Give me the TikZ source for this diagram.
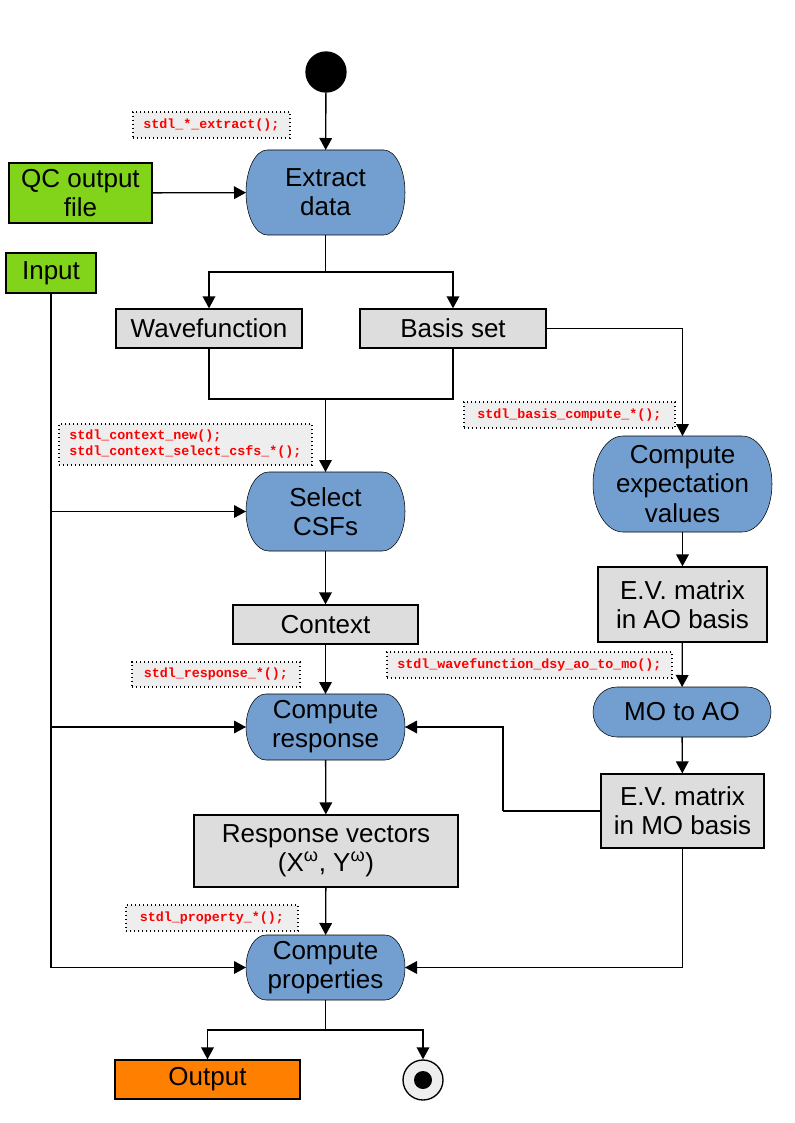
\documentclass[tikz,border=0pt]{standalone}
\usepackage{fontspec}
\setmainfont{Liberation Sans}
\setmonofont{Liberation Mono}
\usetikzlibrary{arrows.meta,backgrounds}
\definecolor{actblue}{HTML}{729FCF}
\definecolor{datagray}{HTML}{DDDDDD}
\definecolor{srcgreen}{HTML}{81D41A}
\definecolor{outorange}{HTML}{FF8000}
\definecolor{codegray}{HTML}{EEEEEE}
\tikzset{
  activity/.style={inner sep=0pt,outer sep=0pt,align=center,
    minimum width=119.25pt,font=\fontsize{19.5}{21.8}\selectfont},
  databox/.style={draw,fill=datagray,inner sep=0pt,align=center,font=\fontsize{19.5}{21.8}\selectfont},
  srcbox/.style={databox,fill=srcgreen},
  codenote/.style={draw,dotted,fill=codegray,inner sep=0pt,text=red,
    font=\ttfamily\bfseries\fontsize{10}{12}\selectfont},
  arr/.style={-{Triangle[length=9pt,width=9.5pt]}},
}
\begin{document}
\begin{tikzpicture}[x=0.75pt,y=-0.75pt,line width=1pt]
  \useasboundingbox (0,0) rectangle (794,1123);

  \node (start) [circle,fill=black,draw,minimum size=30pt,inner sep=0pt] at (326,72) {};
  \node (extract) [activity,minimum height=63.75pt] at (325.5,192.5) {Extract\\data};
  \node (qcfile) [srcbox,minimum width=107.25pt,minimum height=45pt] at (80.5,193) {QC output\\file};
  \node (input) [srcbox,minimum width=67.5pt,minimum height=30pt] at (51,273) {Input};
  \node (wave) [databox,minimum width=139.5pt,minimum height=29.25pt] at (209,328.5) {Wavefunction};
  \node (basis) [databox,minimum width=139.5pt,minimum height=29.25pt] at (453,328.5) {Basis set};
  \node (select) [activity,minimum height=59.25pt] at (325.5,511.5) {Select\\CSFs};
  \node (context) [databox,minimum width=138.75pt,minimum height=29.25pt] at (325.5,624.5) {Context};
  \node (response) [activity,minimum height=49.5pt] at (325.5,727) {Compute\\response};
  \node (vectors) [databox,minimum width=198pt,minimum height=54pt] at (326,851) {Response vectors\\(X\textsuperscript{ω}, Y\textsuperscript{ω})};
  \node (props) [activity,minimum height=48.75pt] at (325.5,967.5) {Compute\\properties};
  \node (output) [databox,fill=outorange,minimum width=138.75pt,minimum height=29.25pt] at (207.5,1079.5) {Output};
  \node (stop) [circle,draw,fill=codegray,minimum size=30pt,inner sep=0pt,
    path picture={\fill[black] (path picture bounding box.center) circle [radius=6.75pt];}] at (423,1080) {};
  \node (expect) [activity,minimum width=134.25pt,minimum height=72pt] at (682.5,484) {Compute\\expectation\\values};
  \node (evao) [databox,minimum width=126.75pt,minimum height=56.25pt] at (682.5,604.5) {E.V. matrix\\in AO basis};
  \node (motoao) [activity,minimum width=133.5pt,minimum height=37.5pt] at (682,712) {MO to AO};
  \node (evmo) [databox,minimum width=122.25pt,minimum height=55.5pt] at (682.5,811) {E.V. matrix\\in MO basis};

  \begin{scope}[on background layer]
    \foreach \a/\rx/\ry in {extract/16/31.875,select/17/29.625,response/15/24.75,
        props/15/24.375,expect/22.5/36,motoao/18/18.75}
      \draw[fill=actblue] ([xshift=\rx pt]\a.north west) -- ([xshift=-\rx pt]\a.north east)
        arc [start angle=90,end angle=-90,x radius=\rx pt,y radius=\ry pt]
        -- ([xshift=\rx pt]\a.south west)
        arc [start angle=270,end angle=90,x radius=\rx pt,y radius=\ry pt] -- cycle;
  \end{scope}

  \node (noteextract) [codenote,minimum width=117.75pt,minimum height=19.5pt] at (211.5,125) {stdl\_*\_extract();};
  \node (notebasis) [codenote,minimum width=158.25pt,minimum height=19.5pt] at (569.5,415) {stdl\_basis\_compute\_*();};
  \node (notecontext) [codenote,align=left,minimum width=189.75pt,minimum height=30.75pt] at (185.5,444.5)
    {stdl\_context\_new();\\stdl\_context\_select\_csfs\_*();};
  \node (noteresponse) [codenote,minimum width=126pt,minimum height=18.75pt] at (216,674.5) {stdl\_response\_*();};
  \node (notemo) [codenote,minimum width=213.75pt,minimum height=19.5pt] at (529.5,665) {stdl\_wavefunction\_dsy\_ao\_to\_mo();};
  \node (noteprops) [codenote,minimum width=129pt,minimum height=19.5pt] at (212,918) {stdl\_property\_*();};

  \coordinate (split1) at (325.5,272);
  \coordinate (join1) at (325.5,399);
  \coordinate (fb) at (503,811);
  \coordinate (split3) at (325.5,1030);

  \draw[arr] (start) -- (extract);
  \draw[arr] (qcfile) -- (extract);
  \draw (extract) -- (split1);
  \draw[arr] (split1) -| (wave);
  \draw[arr] (split1) -| (basis);
  \draw (wave) |- (join1);
  \draw (basis) |- (join1);
  \draw[arr] (join1) -- (select);
  \draw[arr] (basis) -| (expect);
  \draw[arr] (input) |- (select);
  \draw[arr] (input) |- (response);
  \draw[arr] (input) |- (props);
  \draw[arr] (select) -- (context);
  \draw[arr] (context) -- (response);
  \draw[arr] (response) -- (vectors);
  \draw[arr] (vectors) -- (props);
  \draw (props) -- (split3);
  \draw[arr] (split3) -| (output);
  \draw[arr] (split3) -| (stop);
  \draw[arr] (expect) -- (evao);
  \draw[arr] (evao) -- (motoao);
  \draw[arr] (motoao) -- (evmo);
  \draw (evmo) -- (fb);
  \draw[arr] (fb) |- (response);
  \draw[arr] (evmo) |- (props);
\end{tikzpicture}
\end{document}
